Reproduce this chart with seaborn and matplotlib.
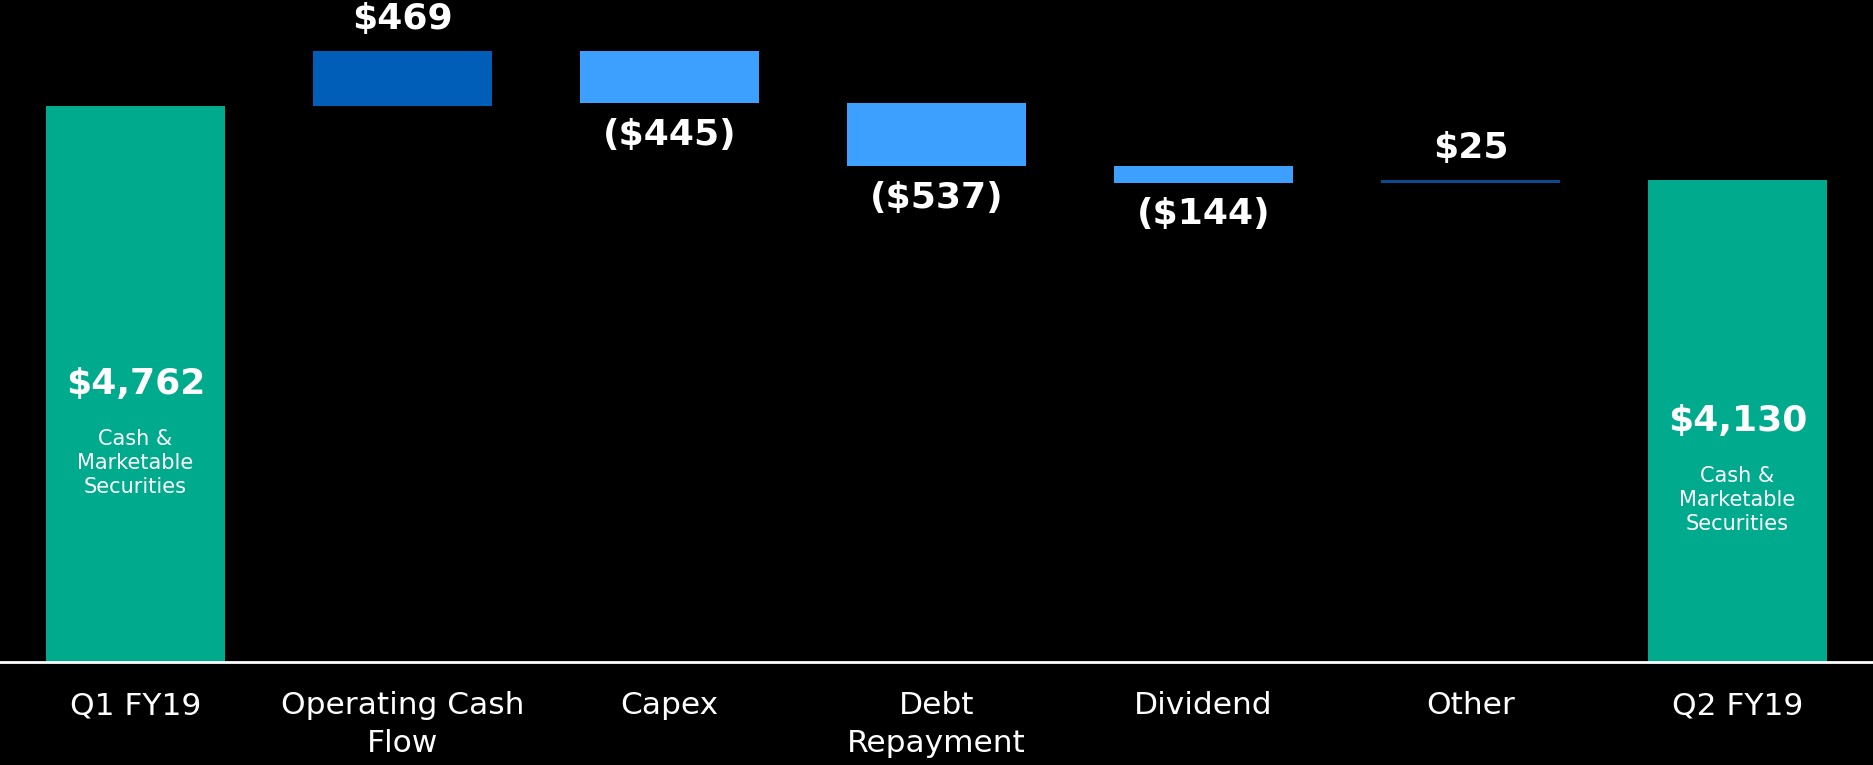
import pandas as pd
import seaborn as sns
import matplotlib.pyplot as plt

# Waterfall: Q1 -> Q2 FY19 cash bridge ($M)
steps = ["Q1 FY19", "Operating Cash\nFlow", "Capex", "Debt\nRepayment",
         "Dividend", "Other", "Q2 FY19"]
amounts = [4762, 469, -445, -537, -144, 25, 4130]
kinds = ["total", "inflow", "outflow", "outflow", "outflow", "other", "total"]
value_labels = ["$4,762", "$469", "($445)", "($537)", "($144)", "$25", "$4,130"]
total_note = "Cash &\nMarketable\nSecurities"

palette = {"total": "#00AA8D", "inflow": "#005EB8",
           "outflow": "#3DA0FF", "other": "#0B4A8C"}

# build bar bottoms / heights from the running total
bases, heights = [], []
running = 0
for amt, kind in zip(amounts, kinds):
    if kind == "total":
        bases.append(0)
        heights.append(amt)
        running = amt
    else:
        bases.append(running if amt >= 0 else running + amt)
        heights.append(abs(amt))
        running += amt

df = pd.DataFrame({"step": steps, "base": bases, "height": heights,
                   "kind": kinds, "amount": amounts, "label": value_labels})

sns.set_theme(style="dark", rc={
    "axes.facecolor": "black", "figure.facecolor": "black",
    "text.color": "white", "xtick.color": "white",
})
plt.rcParams["font.family"] = ["DejaVu Sans"]

fig, ax = plt.subplots(figsize=(18.73, 7.65), dpi=100)
fig.subplots_adjust(left=0, right=1, bottom=103 / 765, top=1)

for kind, col in palette.items():
    sub = df[df["kind"] == kind]
    sns.barplot(data=sub, x="step", y="height", bottom=sub["base"].to_numpy(),
                order=steps, color=col, saturation=1, width=0.67,
                errorbar=None, linewidth=0, edgecolor="none", ax=ax)

# value labels
for i, row in df.iterrows():
    if row["kind"] == "total":
        mid = row["height"] / 2
        ax.text(i, mid, row["label"], ha="center", va="center",
                fontsize=26, fontweight="bold", color="white")
        ax.annotate(total_note, (i, mid), xytext=(0, -57),
                    textcoords="offset points", ha="center", va="center",
                    fontsize=15, color="white", linespacing=1.27)
    elif row["amount"] >= 0:
        ax.annotate(row["label"], (i, row["base"] + row["height"]),
                    xytext=(0, 23), textcoords="offset points",
                    ha="center", va="center", fontsize=26,
                    fontweight="bold", color="white")
    else:
        ax.annotate(row["label"], (i, row["base"]), xytext=(0, -23),
                    textcoords="offset points", ha="center", va="center",
                    fontsize=26, fontweight="bold", color="white")

ax.set_xlim(-0.5075, 6.507)
ax.set_ylim(0, 5668)
ax.set_yticks([])
ax.set_xlabel("")
ax.set_ylabel("")
for side in ["top", "left", "right"]:
    ax.spines[side].set_visible(False)
ax.spines["bottom"].set_color("white")
ax.spines["bottom"].set_linewidth(2)
ax.tick_params(axis="x", length=0, pad=21, labelsize=22.5, colors="white")
for lbl in ax.get_xticklabels():
    lbl.set_linespacing(1.37)
ax.grid(False)

fig.savefig("out.png", dpi=100, facecolor="black")
